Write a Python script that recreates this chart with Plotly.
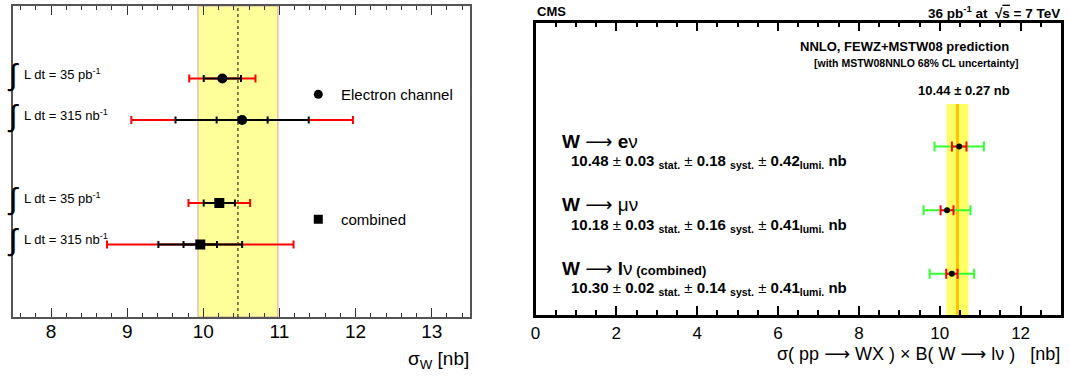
import plotly.graph_objects as go

# ---------------- data ----------------
# left panel: sigma_W measurements
left_lumi_labels = ["L dt = 35 pb<sup>-1</sup>", "L dt = 315 nb<sup>-1</sup>",
                    "L dt = 35 pb<sup>-1</sup>", "L dt = 315 nb<sup>-1</sup>"]
left_rowpos = [5.75, 4.75, 2.75, 1.75]
left_values = [10.25, 10.51, 10.21, 9.96]
left_err_inner = [0.245, 0.335, 0.205, 0.22]
left_err_mid = [None, 0.875, None, 0.55]
left_err_outer = [0.435, 1.455, 0.405, 1.225]
left_symbols = ["circle", "circle", "square", "square"]
left_theory_center = 10.455
left_theory_low = 9.93
left_theory_high = 10.98
legend_names = ["Electron channel", "combined"]
legend_symbols = ["circle", "square"]
legend_rowpos = [5.37, 2.36]
legend_x = 11.51
left_ticks = [8, 9, 10, 11, 12, 13]

# right panel: sigma x B per channel
ARROW = "<span style='font-family:DejaVu Sans;font-weight:normal'>⟶</span>"
right_channels = [f"<b>W</b> {ARROW} <b>e</b>ν", f"<b>W</b> {ARROW} μν", f"<b>W</b> {ARROW} <b>l</b>ν"]
right_suffix = ["", "", " <b>(combined)</b>"]
right_rowpos = [2.65, 1.65, 0.65]
right_values = [10.48, 10.18, 10.30]
right_stat = [0.03, 0.03, 0.02]
right_syst = [0.18, 0.16, 0.14]
right_lumi = [0.42, 0.41, 0.41]
right_err_red = [0.18, 0.16, 0.14]
right_err_green = [0.61, 0.58, 0.55]
theory_value = 10.44
theory_err = 0.27
theory_band_top = 3.32

W, H = 1069, 376
FONT = "Liberation Sans, Arial, sans-serif"


def px(x):
    return x / W


def py(y):
    return 1 - y / H


fig = go.Figure()

# ---------------- left panel ----------------
# outer (red) error bars
fig.add_trace(go.Scatter(
    x=left_values, y=left_rowpos, mode="markers", marker=dict(size=0.1, color="rgba(0,0,0,0)"),
    error_x=dict(type="data", array=left_err_outer, color="#ff0000", thickness=2, width=4),
    xaxis="x", yaxis="y", showlegend=False, hoverinfo="skip"))
# middle black error bars (only for 315 nb^-1 rows)
mid_idx = [i for i, e in enumerate(left_err_mid) if e is not None]
fig.add_trace(go.Scatter(
    x=[left_values[i] for i in mid_idx], y=[left_rowpos[i] for i in mid_idx], mode="markers",
    marker=dict(size=0.1, color="rgba(0,0,0,0)"),
    error_x=dict(type="data", array=[left_err_mid[i] for i in mid_idx], color="#000000",
                 thickness=2, width=3.5),
    xaxis="x", yaxis="y", showlegend=False, hoverinfo="skip"))
# inner black error bars + markers
fig.add_trace(go.Scatter(
    x=left_values, y=left_rowpos, mode="markers",
    marker=dict(size=10, color="black", symbol=left_symbols),
    error_x=dict(type="data", array=left_err_inner, color="#000000", thickness=2, width=3.5),
    xaxis="x", yaxis="y", showlegend=False, hoverinfo="skip"))
# legend markers
fig.add_trace(go.Scatter(
    x=[legend_x] * len(legend_names), y=legend_rowpos, mode="markers",
    marker=dict(size=9, color="black", symbol=legend_symbols),
    xaxis="x", yaxis="y", showlegend=False, hoverinfo="skip"))

# ---------------- right panel ----------------
fig.add_trace(go.Scatter(
    x=right_values, y=right_rowpos, mode="markers", marker=dict(size=0.1, color="rgba(0,0,0,0)"),
    error_x=dict(type="data", array=right_err_green, color="#33ff33", thickness=2, width=5),
    xaxis="x2", yaxis="y2", showlegend=False, hoverinfo="skip"))
fig.add_trace(go.Scatter(
    x=right_values, y=right_rowpos, mode="markers",
    marker=dict(size=6, color="black", symbol="circle"),
    error_x=dict(type="data", array=right_err_red, color="#ff0000", thickness=2, width=5),
    xaxis="x2", yaxis="y2", showlegend=False, hoverinfo="skip"))

shapes = [
    dict(type="rect", xref="x", yref="y", x0=left_theory_low, x1=left_theory_high, y0=0, y1=7.5,
         fillcolor="#ffff99", line=dict(color="#d8a0a0", width=1), layer="below"),
    dict(type="line", xref="x", yref="y", x0=left_theory_center, x1=left_theory_center, y0=0, y1=7.5,
         line=dict(color="black", width=1, dash="dot"), layer="below"),
    dict(type="rect", xref="x2", yref="y2", x0=theory_value - theory_err, x1=theory_value + theory_err,
         y0=0, y1=theory_band_top, fillcolor="#ffff66", line=dict(width=0), layer="below"),
    dict(type="line", xref="x2", yref="y2", x0=theory_value, x1=theory_value, y0=0, y1=theory_band_top,
         line=dict(color="#ffc400", width=3), layer="below"),
]

ann = []
# integral labels
for lab, yp in zip(left_lumi_labels, left_rowpos):
    ann.append(dict(xref="paper", yref="y", x=px(0), y=yp, yshift=4, text="∫", showarrow=False,
                    xanchor="left", yanchor="middle", font=dict(family=FONT, size=30, color="black")))
    ann.append(dict(xref="paper", yref="y", x=px(17), y=yp, yshift=5, text=lab, showarrow=False,
                    xanchor="left", yanchor="middle", font=dict(family=FONT, size=13, color="black")))
for name, yp in zip(legend_names, legend_rowpos):
    ann.append(dict(xref="paper", yref="y", x=px(336), y=yp, text=name, showarrow=False,
                    xanchor="left", yanchor="middle", font=dict(family=FONT, size=15, color="black")))
ann.append(dict(xref="paper", yref="paper", x=px(468), y=py(360), text="σ<sub>W</sub> [nb]",
                showarrow=False, xanchor="right", yanchor="middle",
                font=dict(family=FONT, size=19, color="black")))

# right panel texts
ann.append(dict(xref="paper", yref="paper", x=px(532), y=py(12), text="<b>CMS</b>", showarrow=False,
                xanchor="left", yanchor="middle", font=dict(family=FONT, size=13, color="black")))
ann.append(dict(xref="paper", yref="paper", x=px(1062), y=py(12),
                text="<b>36 pb<sup>-1</sup> at  √<span style='text-decoration:overline'>s</span> = 7 TeV</b>",
                showarrow=False, xanchor="right", yanchor="middle",
                font=dict(family=FONT, size=13.5, color="black")))
ann.append(dict(xref="paper", yref="paper", x=px(904), y=py(46), text="<b>NNLO, FEWZ+MSTW08 prediction</b>",
                showarrow=False, xanchor="center", yanchor="middle",
                font=dict(family=FONT, size=13, color="black")))
ann.append(dict(xref="paper", yref="paper", x=px(916), y=py(63),
                text="<b>[with MSTW08NNLO 68% CL uncertainty]</b>",
                showarrow=False, xanchor="center", yanchor="middle",
                font=dict(family=FONT, size=10.5, color="black")))
ann.append(dict(xref="paper", yref="paper", x=px(964), y=py(90),
                text=f"<b>{theory_value:.2f} ± {theory_err:.2f} nb</b>",
                showarrow=False, xanchor="center", yanchor="middle",
                font=dict(family=FONT, size=13, color="black")))
for ch, suf, yp, v, st, sy, lu in zip(right_channels, right_suffix, right_rowpos,
                                      right_values, right_stat, right_syst, right_lumi):
    suf_txt = f"<span style='font-size:13px'>{suf}</span>" if suf else ""
    ann.append(dict(xref="paper", yref="y2", x=px(558), y=yp, yshift=6, text=ch + suf_txt,
                    showarrow=False, xanchor="left", yanchor="middle",
                    font=dict(family=FONT, size=19, color="black")))
    txt = (f"<b>{v:.2f}</b> ± <b>{st:.2f}</b> <b><sub>stat.</sub></b> ± <b>{sy:.2f}</b> "
           f"<b><sub>syst.</sub></b> ± <b>{lu:.2f}<sub>lumi.</sub> nb</b>")
    ann.append(dict(xref="paper", yref="y2", x=px(567), y=yp, yshift=-15, text=txt,
                    showarrow=False, xanchor="left", yanchor="middle",
                    font=dict(family=FONT, size=15, color="black")))
ann.append(dict(xref="paper", yref="paper", x=px(1062), y=py(353),
                text=f"σ( pp {ARROW} WX ) × B( W {ARROW} lν )   [nb]",
                showarrow=False, xanchor="right", yanchor="middle",
                font=dict(family=FONT, size=18, color="black")))

fig.update_layout(
    width=W, height=H, margin=dict(l=0, r=0, t=0, b=0),
    paper_bgcolor="white", plot_bgcolor="white",
    shapes=shapes, annotations=ann, showlegend=False,
    xaxis=dict(domain=[px(8), px(467)], range=[7.5, 13.5], anchor="y",
               tickvals=left_ticks, ticks="inside", ticklen=9, tickwidth=1, tickcolor="#333",
               minor=dict(dtick=0.2, tick0=0, ticks="inside", ticklen=4, tickcolor="#333"),
               showline=True, linecolor="#555", linewidth=1.5, mirror="ticks",
               showgrid=False, zeroline=False, ticklabelstandoff=-4,
               tickfont=dict(family=FONT, size=19, color="black")),
    yaxis=dict(domain=[py(317), py(6)], range=[0, 7.5], anchor="x",
               showticklabels=False, ticks="", showline=True, linecolor="#555", linewidth=1.5,
               mirror=True, showgrid=False, zeroline=False),
    xaxis2=dict(domain=[px(533), px(1061)], range=[0, 13], anchor="y2",
                dtick=2, tick0=0, ticks="inside", ticklen=9, tickwidth=1.5, tickcolor="black",
                minor=dict(dtick=0.5, tick0=0, ticks="inside", ticklen=5, tickcolor="black"),
                showline=True, linecolor="black", linewidth=2.5, mirror="ticks",
                showgrid=False, zeroline=False, ticklabelstandoff=1,
                tickfont=dict(family=FONT, size=17, color="black")),
    yaxis2=dict(domain=[py(315), py(22.7)], range=[0, 4.6], anchor="x2",
                showticklabels=False, ticks="", showline=True, linecolor="black", linewidth=2.5,
                mirror=True, showgrid=False, zeroline=False),
)

fig.write_html("out.html")
